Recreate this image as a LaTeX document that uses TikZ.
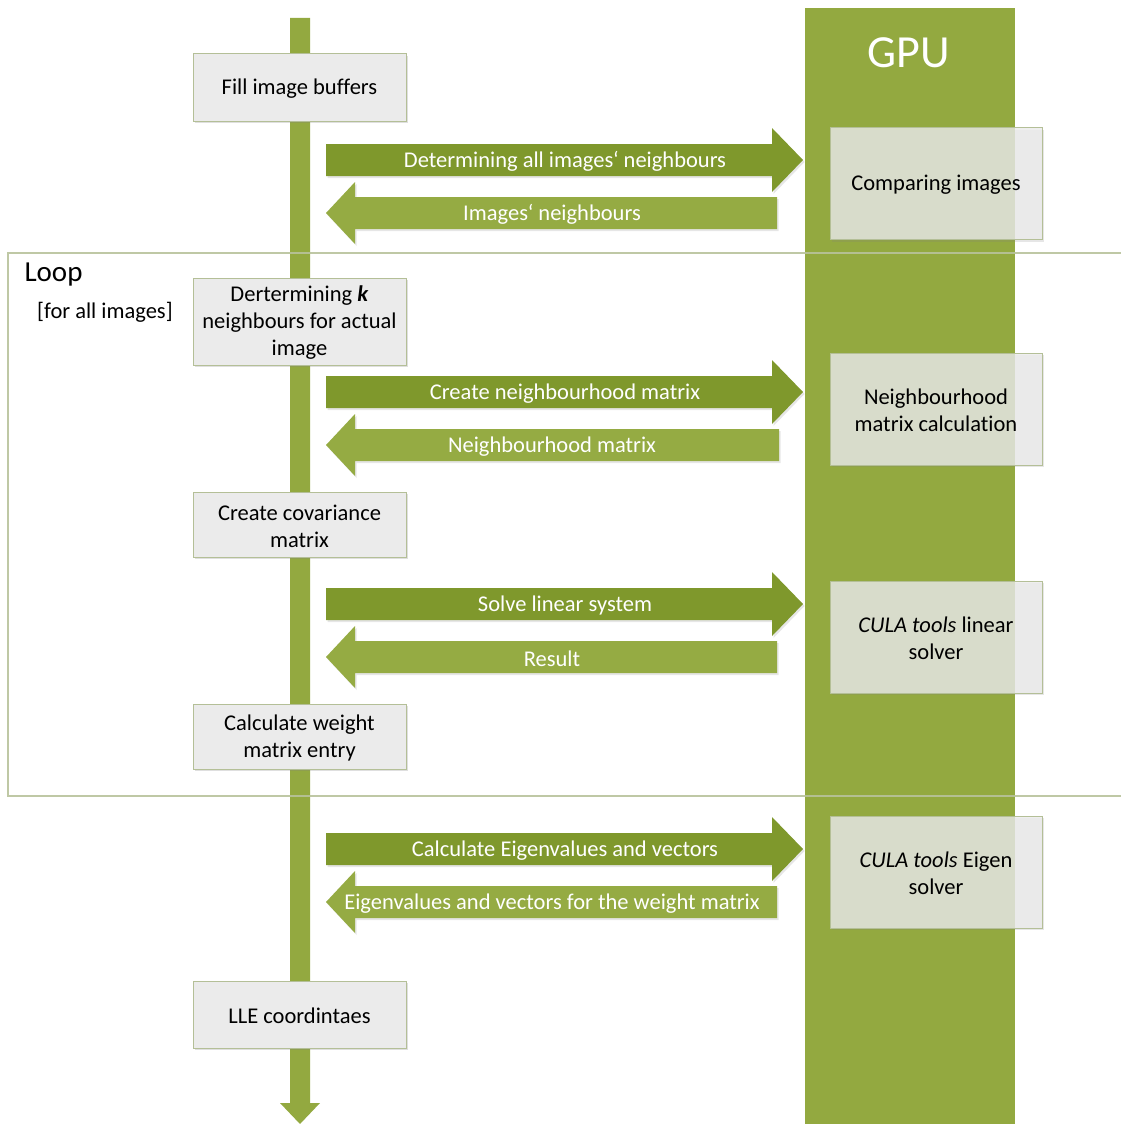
\documentclass[tikz,border=0pt]{standalone}
\usepackage{fontspec}
\setmainfont{Carlito}[Ligatures=CommonOff]
\usetikzlibrary{shadows}
\definecolor{lanegreen}{HTML}{93A940}
\definecolor{callgreen}{HTML}{7F982C}
\definecolor{backgreen}{HTML}{95AB43}
\definecolor{boxfill}{HTML}{EBEBEB}
\definecolor{boxline}{HTML}{B4BF97}
\definecolor{loopline}{HTML}{B8C29B}
\tikzset{
  txt/.style={font=\fontsize{22.5}{27}\selectfont, align=center, inner sep=0pt},
  boxtext/.style={txt, yshift=-1.5pt},
  procbox/.style={draw=boxline, line width=1pt, fill=boxfill, minimum width=213pt,
    drop shadow={shadow xshift=1.5pt, shadow yshift=-2pt, opacity=0.25}},
  gpubox/.style={draw=boxline, line width=1pt, fill=boxfill, fill opacity=0.8,
    minimum width=212pt, minimum height=112pt,
    drop shadow={shadow xshift=1.5pt, shadow yshift=-2pt, opacity=0.2}},
  flowlabel/.style={boxtext, text=white},
  callshape/.style={fill=callgreen, drop shadow={shadow xshift=1.5pt, shadow yshift=-2pt, opacity=0.2}},
  backshape/.style={fill=backgreen, drop shadow={shadow xshift=1.5pt, shadow yshift=-2pt, opacity=0.2}},
}
% call towards the GPU: body from x=326 to 772, tip at 803
\newcommand\callflow[3]{%
  \path[callshape] (326,#1-16) -- (772,#1-16) -- (772,#1-32) -- (803,#1) -- (772,#1+32)
    -- (772,#1+16) -- (326,#1+16) -- cycle;
  \node[flowlabel] (#2) at (565,#1) {#3};}
% answer from the GPU: tip at x=326, body from 355 to the given end
\newcommand\backflow[4]{%
  \path[backshape] (#4,#1-16) -- (355,#1-16) -- (355,#1-31) -- (326,#1) -- (355,#1+31)
    -- (355,#1+16) -- (#4,#1+16) -- cycle;
  \node[flowlabel] (#2) at (552,#1) {#3};}
\begin{document}
\begin{tikzpicture}[x=1pt,y=-1pt]
\useasboundingbox (0,0) rectangle (1120,1124);

% GPU lane
\fill[lanegreen] (805,8) rectangle (1015,1124);
\node[text=white, font=\fontsize{46}{50}\selectfont] (gpu) at (909,53) {GPU};

% host timeline
\fill[lanegreen] (290,18) -- (310,18) -- (310,1103) -- (320,1103) -- (300,1124)
  -- (280,1103) -- (290,1103) -- cycle;

% loop frame
\draw[loopline, line width=1.2pt, draw opacity=0.9] (1125,253) -- (8,253) -- (8,796) -- (1125,796);
\node[anchor=west, font=\fontsize{29}{32}\selectfont] (loop) at (21,275) {Loop};
\node[anchor=west, txt] (loopcond) at (37,312) {[for all images]};

% host steps
\node[procbox, minimum height=67pt] (fill) at (299.5,87.5) {};
\node[boxtext] (fill-t) at (fill) {Fill image buffers};
\node[procbox, minimum height=87pt] (knn) at (299.5,321.5) {};
\node[boxtext] (knn-t) at (knn) {Dertermining \textbf{\textit{k}}\\neighbours for actual\\image};
\node[procbox, minimum height=65pt] (cov) at (299.5,524.5) {};
\node[boxtext] (cov-t) at (cov) {Create covariance\\matrix};
\node[procbox, minimum height=65pt] (weight) at (299.5,736.5) {};
\node[boxtext] (weight-t) at (weight) {Calculate weight\\matrix entry};
\node[procbox, minimum height=67pt] (lle) at (299.5,1014.5) {};
\node[boxtext] (lle-t) at (lle) {LLE coordintaes};

% GPU steps
\node[gpubox] (compare) at (936,183.5) {};
\node[boxtext] (compare-t) at (compare) {Comparing images};
\node[gpubox] (nbmat) at (936,409) {};
\node[boxtext] (nbmat-t) at (nbmat) {Neighbourhood\\matrix calculation};
\node[gpubox] (linsolve) at (936,637) {};
\node[boxtext] (linsolve-t) at (linsolve) {\textit{CULA tools} linear\\solver};
\node[gpubox] (eigsolve) at (936,872) {};
\node[boxtext] (eigsolve-t) at (eigsolve) {\textit{CULA tools} Eigen\\solver};

% calls and answers
\callflow{160}{c1}{Determining all images‘ neighbours}
\backflow{213}{b1}{Images‘ neighbours}{777}
\callflow{392}{c2}{Create neighbourhood matrix}
\backflow{445}{b2}{Neighbourhood matrix}{779}
\callflow{604}{c3}{Solve linear system}
\backflow{657}{b3}{Result}{777}
\callflow{849}{c4}{Calculate Eigenvalues and vectors}
\backflow{902}{b4}{Eigenvalues and vectors for the weight matrix}{777}
\end{tikzpicture}
\end{document}
